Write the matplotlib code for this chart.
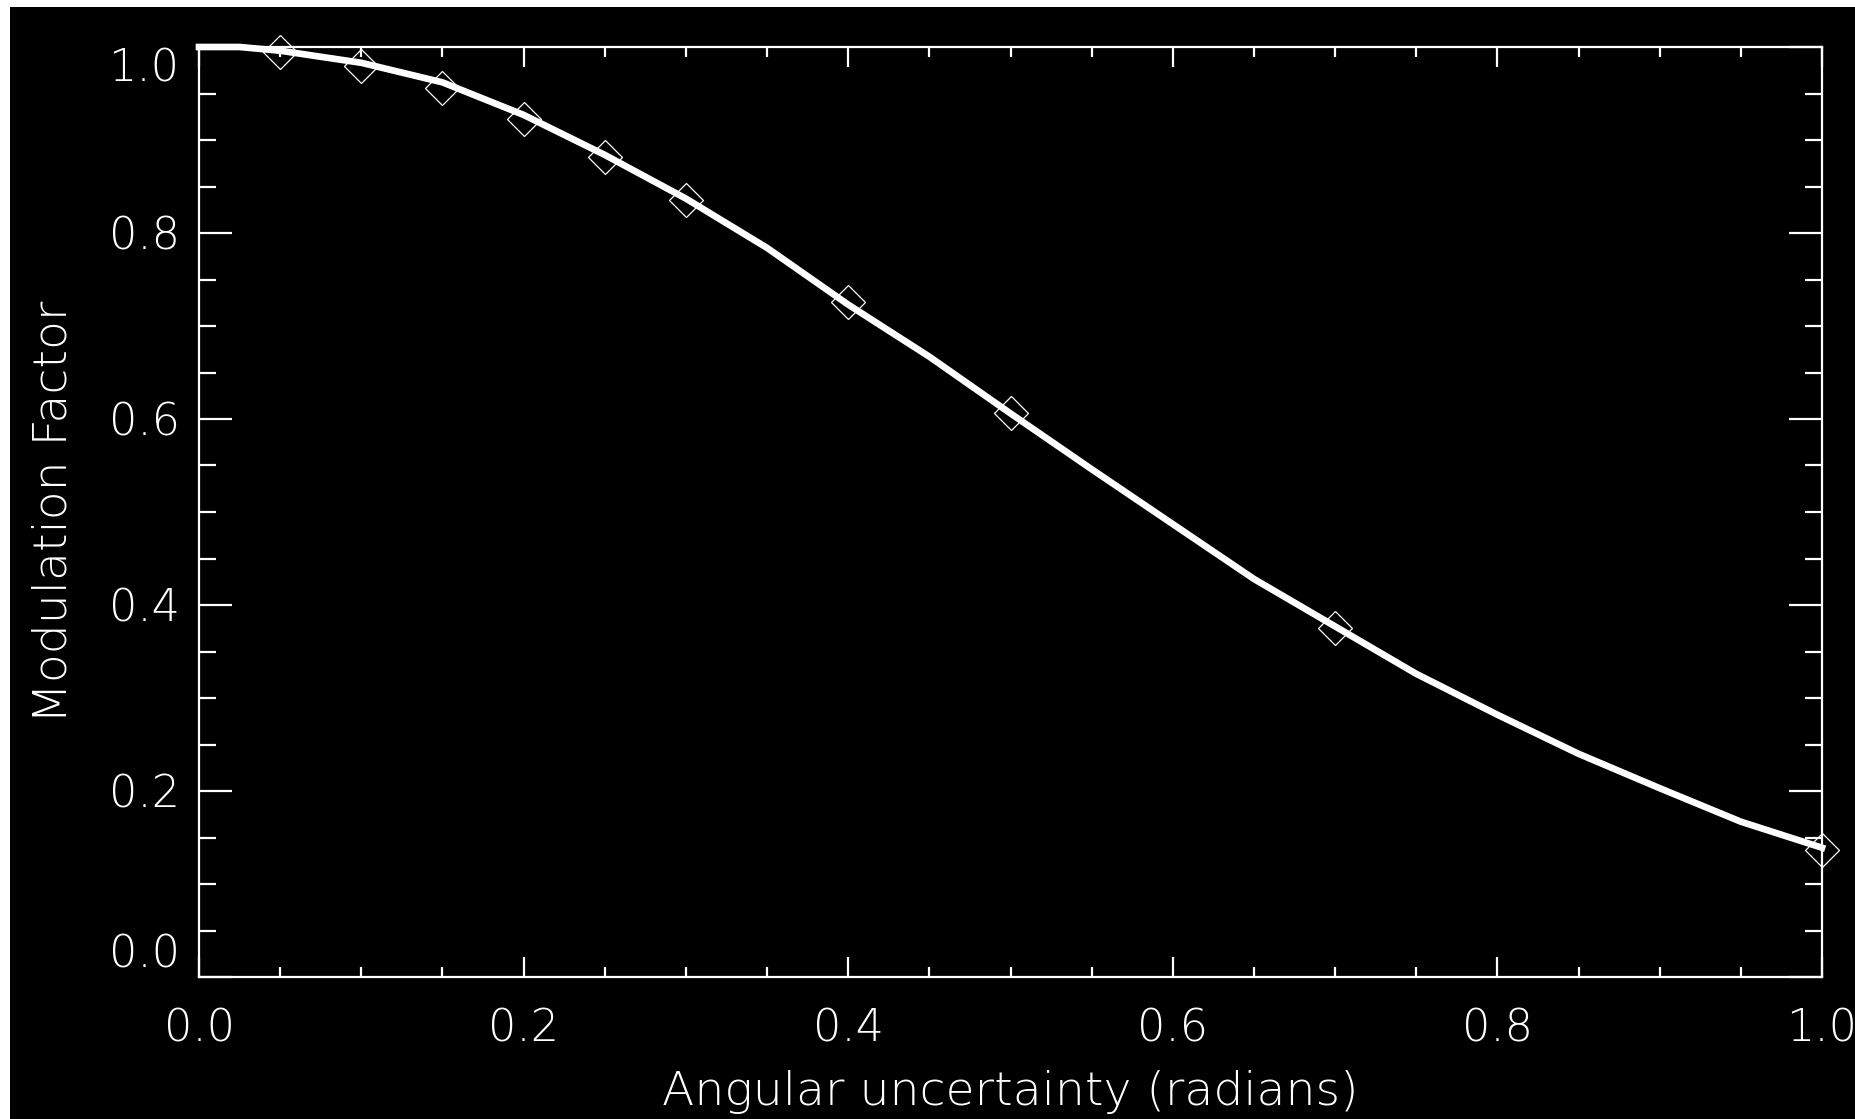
import numpy as np
import matplotlib
matplotlib.use('Agg')
import matplotlib.pyplot as plt
from matplotlib.patches import Rectangle
from matplotlib.ticker import MultipleLocator

# curva simulada (linea gruesa)
curva_x = [0.0, 0.025, 0.05, 0.1, 0.15, 0.2, 0.25, 0.3, 0.35, 0.4, 0.45, 0.5,
           0.55, 0.6, 0.65, 0.7, 0.75, 0.8, 0.85, 0.9, 0.95, 1.0]
curva_y = [1.0, 1.0, 0.996, 0.983, 0.962, 0.927, 0.884, 0.837, 0.784, 0.723,
           0.667, 0.606, 0.546, 0.487, 0.428, 0.377, 0.326, 0.282, 0.240,
           0.203, 0.167, 0.139]

# puntos (diamantes)
puntos_x = [0.05, 0.1, 0.15, 0.2, 0.25, 0.3, 0.4, 0.5, 0.7, 1.0]
puntos_y = [0.995, 0.980, 0.956, 0.923, 0.882, 0.835, 0.726, 0.606, 0.375, 0.137]

W, H = 1855, 1119
fig = plt.figure(figsize=(W / 100, H / 100), dpi=100, facecolor='white')
# fondo negro con el borde blanco arriba y a la izquierda
fig.patches.append(Rectangle((10 / W, 0), 1 - 10 / W, 1 - 7 / H,
                             transform=fig.transFigure, facecolor='black',
                             edgecolor='none', zorder=-10))

ax = fig.add_axes([199 / W, 1 - 977 / H, (1822 - 199) / W, (977 - 47) / H])
ax.set_facecolor('black')

ax.plot(curva_x, curva_y, color='white', lw=4.8, solid_joinstyle='miter',
        clip_on=False, zorder=3)
ax.plot(puntos_x, puntos_y, linestyle='none', marker='D', ms=17,
        mfc='none', mec='white', mew=0.9, clip_on=False, zorder=4)

ax.set_xlim(0, 1)
ax.set_ylim(0, 1)

ax.xaxis.set_major_locator(MultipleLocator(0.2))
ax.xaxis.set_minor_locator(MultipleLocator(0.05))
ax.yaxis.set_major_locator(MultipleLocator(0.2))
ax.yaxis.set_minor_locator(MultipleLocator(0.05))

for s in ax.spines.values():
    s.set_color('white')
    s.set_linewidth(1.6)

fs = 32
ax.tick_params(axis='both', which='both', direction='in', colors='white',
               top=True, right=True, width=1.6, labelsize=fs)
ax.tick_params(axis='x', which='major', length=14.5, pad=22)
ax.tick_params(axis='x', which='minor', length=7.2)
ax.tick_params(axis='y', which='major', length=24, pad=14)
ax.tick_params(axis='y', which='minor', length=12)

ax.set_xticks([0, 0.2, 0.4, 0.6, 0.8, 1.0])
ax.set_xticklabels(['0.0', '0.2', '0.4', '0.6', '0.8', '1.0'])
ax.set_yticks([0, 0.2, 0.4, 0.6, 0.8, 1.0])
ax.set_yticklabels(['0.0', '0.2', '0.4', '0.6', '0.8', '1.0'])
ylabs = ax.get_yticklabels()
ylabs[0].set_va('bottom')
ylabs[-1].set_va('top')
for t in ax.get_xticklabels() + ylabs:
    t.set_color('white')
    t.set_fontweight('light')

ax.set_xlabel('Angular uncertainty (radians)', color='white', fontsize=34,
              fontweight='light', labelpad=14)
ax.set_ylabel('Modulation Factor', color='white', fontsize=34,
              fontweight='light', labelpad=24)

fig.savefig('out.png', dpi=100, facecolor=fig.get_facecolor())
